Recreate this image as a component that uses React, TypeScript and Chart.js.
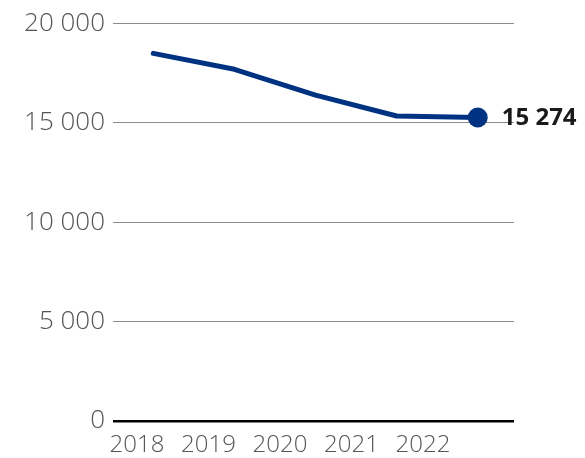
import React, { useEffect, useRef } from "react";
import { Chart, registerables } from "chart.js";

Chart.register(...registerables);

const years = [2018, 2019, 2020, 2021, 2022];
const values = [18500, 17700, 16400, 15350, 15274];
const yTicks = [0, 5000, 10000, 15000, 20000];

const fmt = (v: number) => String(Math.round(v)).replace(/\B(?=(\d{3})+(?!\d))/g, " ");

const endLabel = {
  id: "endLabel",
  afterDatasetsDraw(chart: any) {
    const meta = chart.getDatasetMeta(0);
    const last = meta.data[meta.data.length - 1];
    if (!last) return;
    const ctx = chart.ctx;
    ctx.save();
    ctx.font = "bold 24px 'Open Sans'";
    ctx.fillStyle = "#1a1a1a";
    ctx.textAlign = "left";
    ctx.textBaseline = "middle";
    ctx.fillText(fmt(values[values.length - 1]), last.x + 24, last.y + 1);
    ctx.restore();
  },
};

export default function App() {
  const ref = useRef<HTMLCanvasElement | null>(null);
  useEffect(() => {
    if (!ref.current) return;
    const chart = new Chart(ref.current, {
      type: "line",
      data: {
        datasets: [
          {
            data: years.map((y, i) => ({ x: y, y: values[i] })),
            borderColor: "#003282",
            backgroundColor: "#003282",
            borderWidth: 5,
            borderCapStyle: "round",
            borderJoinStyle: "round",
            tension: 0,
            pointRadius: values.map((_, i) => (i === values.length - 1 ? 10 : 0)),
            pointHoverRadius: 10,
            pointBorderWidth: 0,
            xAxisID: "x",
            yAxisID: "y",
          },
        ],
      },
      options: {
        animation: false,
        responsive: true,
        maintainAspectRatio: false,
        events: [],
        layout: { padding: { top: 20, right: 71, left: 0, bottom: 0 } },
        plugins: { legend: { display: false }, tooltip: { enabled: false } },
        scales: {
          x: {
            type: "linear",
            display: false,
            min: 2018 - 40 / 80.5,
            max: 2022 + 36 / 80.5,
          },
          xl: {
            type: "linear",
            position: "bottom",
            min: 2018 - 24 / 71.5,
            max: 2022 + 91 / 71.5,
            afterBuildTicks: (scale: any) => {
              scale.ticks = years.map((v) => ({ value: v }));
            },
            afterFit: (scale: any) => {
              scale.height = 37;
            },
            grid: { display: false, drawTicks: false },
            border: { display: false },
            ticks: {
              padding: 10,
              color: "#555",
              font: { family: "'Open Sans'", size: 24, weight: "300" },
              callback: (v: any) => String(v),
              maxRotation: 0,
              autoSkip: false,
            },
          },
          y: {
            type: "linear",
            min: 0,
            max: 20000,
            afterBuildTicks: (scale: any) => {
              scale.ticks = yTicks.map((v) => ({ value: v }));
            },
            afterFit: (scale: any) => {
              scale.width = 113;
            },
            grid: {
              drawTicks: false,
              color: (c: any) => (c.tick && c.tick.value === 0 ? "#000" : "#8c8c8c"),
              lineWidth: (c: any) => (c.tick && c.tick.value === 0 ? 2.5 : 1),
            },
            border: { display: false },
            ticks: {
              padding: 8,
              color: "#555",
              font: { family: "'Open Sans'", size: 26, weight: "300" },
              callback: (v: any) => fmt(Number(v)),
            },
          },
        },
      },
      plugins: [endLabel],
    } as any);
    return () => chart.destroy();
  }, []);
  return (
    <div style={{ position: "fixed", left: 0, top: 0, width: 585, height: 458 }}>
      <canvas ref={ref} />
    </div>
  );
}
